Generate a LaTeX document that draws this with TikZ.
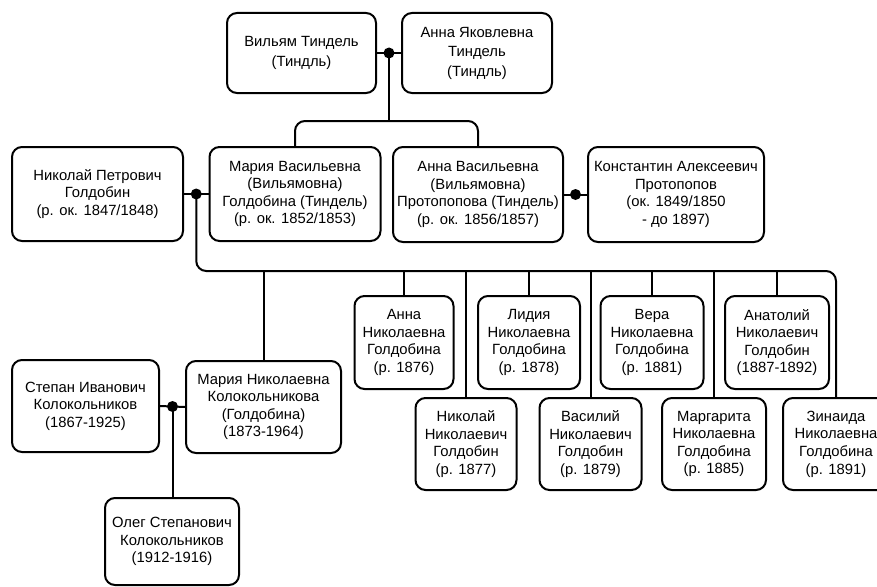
\documentclass[tikz,border=0pt]{standalone}
\usepackage{fontspec}
\setmainfont{Liberation Sans}
\usetikzlibrary{calc}
\begin{document}
\begin{tikzpicture}[x=1pt,y=-1pt,
  box/.style={draw, line width=2pt, rounded corners=10pt, align=center, inner sep=0pt,
    font=\fontsize{14.8}{17.6}\selectfont},
  topbox/.style={box, font=\fontsize{14.8}{19.5}\selectfont},
  conn/.style={line width=2pt, rounded corners=10pt},
  pdot/.style={circle, fill, inner sep=0pt, minimum size=11pt}]
\useasboundingbox (0,0) rectangle (877,586);
% generation 1
\node[topbox, minimum width=149pt, minimum height=80pt] (b1) at (301.5,53) {Вильям Тиндель\\(Тиндль)};
\node[topbox, minimum width=150pt, minimum height=80pt] (b2) at (477,53) {Анна Яковлевна\\Тиндель\\(Тиндль)};
% generation 2
\node[box, minimum width=171pt, minimum height=94pt] (np) at (97.5,194) {Николай Петрович\\Голдобин\\(р. ок. 1847/1848)};
\node[box, minimum width=171pt, minimum height=94pt] (mv) at (295,194) {Мария Васильевна\\(Вильямовна)\\Голдобина (Тиндель)\\(р. ок. 1852/1853)};
\node[box, minimum width=170pt, minimum height=95pt] (av) at (478,194.5) {Анна Васильевна\\(Вильямовна)\\Протопопова (Тиндель)\\(р. ок. 1856/1857)};
\node[box, minimum width=176pt, minimum height=95pt] (ka) at (676,194.5) {Константин Алексеевич\\Протопопов\\(ок. 1849/1850\\- до 1897)};
% generation 3
\node[box, minimum width=155pt, minimum height=92pt] (mn) at (263.5,407) {Мария Николаевна\\Колокольникова\\(Голдобина)\\(1873-1964)};
\node[box, minimum width=147pt, minimum height=92pt] (st) at (85.5,406) {Степан Иванович\\Колокольников\\(1867-1925)};
\node[box, minimum width=99pt, minimum height=93pt] (an) at (404,342.5) {Анна\\Николаевна\\Голдобина\\(р. 1876)};
\node[box, minimum width=102pt, minimum height=93pt] (li) at (529,342.5) {Лидия\\Николаевна\\Голдобина\\(р. 1878)};
\node[box, minimum width=103pt, minimum height=93pt] (ve) at (652,342.5) {Вера\\Николаевна\\Голдобина\\(р. 1881)};
\node[box, minimum width=104pt, minimum height=93pt] (at) at (777,342.5) {Анатолий\\Николаевич\\Голдобин\\(1887-1892)};
\node[box, minimum width=101pt, minimum height=92pt] (nn) at (466,444) {Николай\\Николаевич\\Голдобин\\(р. 1877)};
\node[box, minimum width=102pt, minimum height=92pt] (va) at (590.5,444) {Василий\\Николаевич\\Голдобин\\(р. 1879)};
\node[box, minimum width=104pt, minimum height=92pt] (ma) at (714,444) {Маргарита\\Николаевна\\Голдобина\\(р. 1885)};
\node[box, minimum width=106pt, minimum height=92pt] (zi) at (836,444) {Зинаида\\Николаевна\\Голдобина\\(р. 1891)};
% generation 4
\node[box, minimum width=134pt, minimum height=87pt] (ol) at (172,541.5) {Олег Степанович\\Колокольников\\(1912-1916)};
% couple points
\coordinate (d1) at ($(b1.east)!0.5!(b2.west)$);
\coordinate (d2) at ($(np.east)!0.5!(mv.west)$);
\coordinate (d3) at ($(av.east)!0.5!(ka.west)$);
\coordinate (d4) at ($(st.east)!0.5!(mn.west)$);
\coordinate (j1) at (d1 |- 0,121);
\coordinate (bus) at (0,271);
% connectors
\draw[conn] (b1.east) -- (b2.west);
\draw[conn] (d1) -- (j1);
\draw[conn] (mv.north) |- (j1) -| (av.north);
\draw[conn] (np.east) -- (mv.west);
\draw[conn] (av.east) -- (ka.west);
\draw[conn] (d2) |- (zi.north |- bus) -- (zi.north);
\foreach \c in {mn,an,nn,li,va,ve,ma,at}{
  \draw[conn] (\c.north |- bus) -- (\c.north);
}
\draw[conn] (st.east) -- (mn.west);
\draw[conn] (d4) -- (d4 |- ol.north);
% dots
\node[pdot] (p1) at (d1) {};
\node[pdot] (p2) at (d2) {};
\node[pdot] (p3) at (d3) {};
\node[pdot] (p4) at (d4) {};
\end{tikzpicture}
\end{document}
